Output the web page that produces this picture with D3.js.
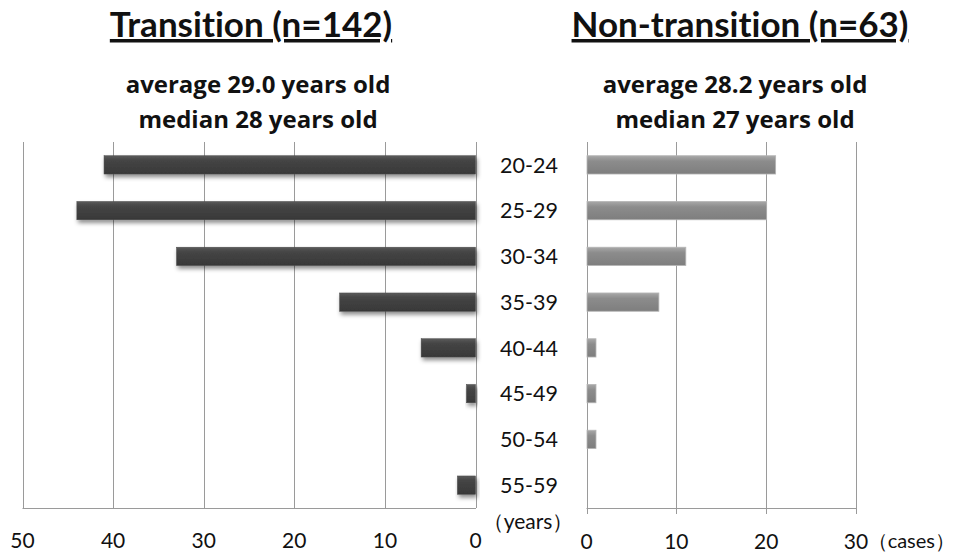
<!DOCTYPE html>
<html>
<head>
<meta charset="utf-8">
<script src="https://cdn.jsdelivr.net/npm/d3@7"></script>
<style>
  body { margin: 0; background: #fff; }
  svg { display: block; font-family: Lato, "Open Sans", sans-serif; font-variant-ligatures: none; }
</style>
</head>
<body>
<svg id="chart" width="961" height="556"></svg>
<script>
// Age groups and case counts for the two cohorts
const ageGroups = ["20-24", "25-29", "30-34", "35-39", "40-44", "45-49", "50-54", "55-59"];
const transitionCounts = [41, 44, 33, 15, 6, 1, 0, 2];
const nonTransitionCounts = [21, 20, 11, 8, 1, 1, 1, 0];
const leftTicks = [0, 10, 20, 30, 40, 50];
const rightTicks = [0, 10, 20, 30];
const titles = ["Transition (n=142)", "Non-transition (n=63)"];
const subtitles = [
  ["average 29.0 years old", "median 28 years old"],
  ["average 28.2 years old", "median 27 years old"]
];

const svg = d3.select("#chart");
const plotTop = 142, plotBottom = 508;

const y = d3.scaleBand().domain(ageGroups).range([plotTop, plotBottom]).paddingInner(0.6).paddingOuter(0.3);
const xL = d3.scaleLinear().domain([0, 50]).range([475.5, 22.5]);
const xR = d3.scaleLinear().domain([0, 30]).range([586.5, 856]);

const defs = svg.append("defs");
const shadow = defs.append("filter").attr("id", "shadow")
  .attr("x", "-10%").attr("y", "-30%").attr("width", "130%").attr("height", "190%");
shadow.append("feDropShadow").attr("dx", 1.5).attr("dy", 3).attr("stdDeviation", 2)
  .attr("flood-color", "#000").attr("flood-opacity", 0.45);

const gDark = defs.append("linearGradient").attr("id", "gDark").attr("x1", 0).attr("y1", 0).attr("x2", 0).attr("y2", 1);
gDark.append("stop").attr("offset", "0%").attr("stop-color", "#5a5a5a");
gDark.append("stop").attr("offset", "25%").attr("stop-color", "#454545");
gDark.append("stop").attr("offset", "100%").attr("stop-color", "#383838");

const gLight = defs.append("linearGradient").attr("id", "gLight").attr("x1", 0).attr("y1", 0).attr("x2", 0).attr("y2", 1);
gLight.append("stop").attr("offset", "0%").attr("stop-color", "#a8a8a8");
gLight.append("stop").attr("offset", "30%").attr("stop-color", "#8c8c8c");
gLight.append("stop").attr("offset", "100%").attr("stop-color", "#7e7e7e");

const gridColor = "#9a9a9a";

// Left panel gridlines and frame
svg.append("g").selectAll("line").data(leftTicks).join("line")
  .attr("x1", d => Math.round(xL(d)) + 0.5).attr("x2", d => Math.round(xL(d)) + 0.5)
  .attr("y1", plotTop).attr("y2", plotBottom)
  .attr("stroke", gridColor).attr("stroke-width", 1);
svg.append("line").attr("x1", xL(50)).attr("x2", xL(0) + 0.5).attr("y1", plotBottom + 0.5).attr("y2", plotBottom + 0.5)
  .attr("stroke", gridColor);

// Right panel gridlines, axis and ticks
svg.append("g").selectAll("line").data(rightTicks).join("line")
  .attr("x1", d => Math.round(xR(d)) + 0.5).attr("x2", d => Math.round(xR(d)) + 0.5)
  .attr("y1", plotTop).attr("y2", plotBottom + 6)
  .attr("stroke", gridColor).attr("stroke-width", 1);
svg.append("line").attr("x1", xR(0)).attr("x2", xR(30) + 0.5).attr("y1", plotBottom + 0.5).attr("y2", plotBottom + 0.5)
  .attr("stroke", gridColor);

// Bars
svg.append("g").selectAll("rect").data(ageGroups.map((g, i) => ({ g, v: transitionCounts[i] })).filter(d => d.v > 0))
  .join("rect")
  .attr("x", d => xL(d.v)).attr("width", d => xL(0) - xL(d.v))
  .attr("y", d => y(d.g)).attr("height", y.bandwidth())
  .attr("fill", "url(#gDark)").attr("stroke", "#4a4a4a").attr("stroke-width", 0.5)
  .attr("filter", "url(#shadow)");

svg.append("g").selectAll("rect").data(ageGroups.map((g, i) => ({ g, v: nonTransitionCounts[i] })).filter(d => d.v > 0))
  .join("rect")
  .attr("x", xR(0) + 0.5).attr("width", d => xR(d.v) - xR(0))
  .attr("y", d => y(d.g)).attr("height", y.bandwidth())
  .attr("fill", "url(#gLight)").attr("stroke", "#b5b5b5").attr("stroke-width", 0.8);

// Category labels in the centre
svg.append("g").selectAll("text").data(ageGroups).join("text")
  .attr("x", 529).attr("y", d => y(d) + y.bandwidth() / 2)
  .attr("dy", "0.36em").attr("text-anchor", "middle")
  .attr("font-size", 21.5).attr("fill", "#111").text(d => d);

// Tick labels
svg.append("g").selectAll("text").data(leftTicks).join("text")
  .attr("x", d => xL(d)).attr("y", 548).attr("text-anchor", "middle")
  .attr("font-size", 21).attr("fill", "#111").text(d => d);
svg.append("g").selectAll("text").data(rightTicks).join("text")
  .attr("x", d => xR(d)).attr("y", 549).attr("text-anchor", "middle")
  .attr("font-size", 21).attr("fill", "#111").text(d => d);

// Unit labels
svg.append("text").attr("x", 528).attr("y", 529).attr("text-anchor", "middle")
  .attr("font-size", 21).attr("fill", "#111").text("（years）");
svg.append("text").attr("x", 955).attr("y", 548).attr("text-anchor", "end")
  .attr("font-size", 20).attr("fill", "#111").text("（cases）");

// Titles and summary statistics
const centers = [251, 740];
const subCenters = [258, 735];
titles.forEach((t, i) => {
  svg.append("text").attr("x", centers[i]).attr("y", 37).attr("text-anchor", "middle")
    .attr("font-size", 35).attr("font-weight", "bold").attr("fill", "#111")
    .attr("text-decoration", "underline").text(t);
  subtitles[i].forEach((s, j) => {
    svg.append("text").attr("x", subCenters[i]).attr("y", 93 + j * 35).attr("text-anchor", "middle")
      .style("font-family", "'Open Sans', sans-serif")
      .attr("font-size", 24).attr("font-weight", "bold").attr("fill", "#111").text(s);
  });
});
</script>
</body>
</html>
